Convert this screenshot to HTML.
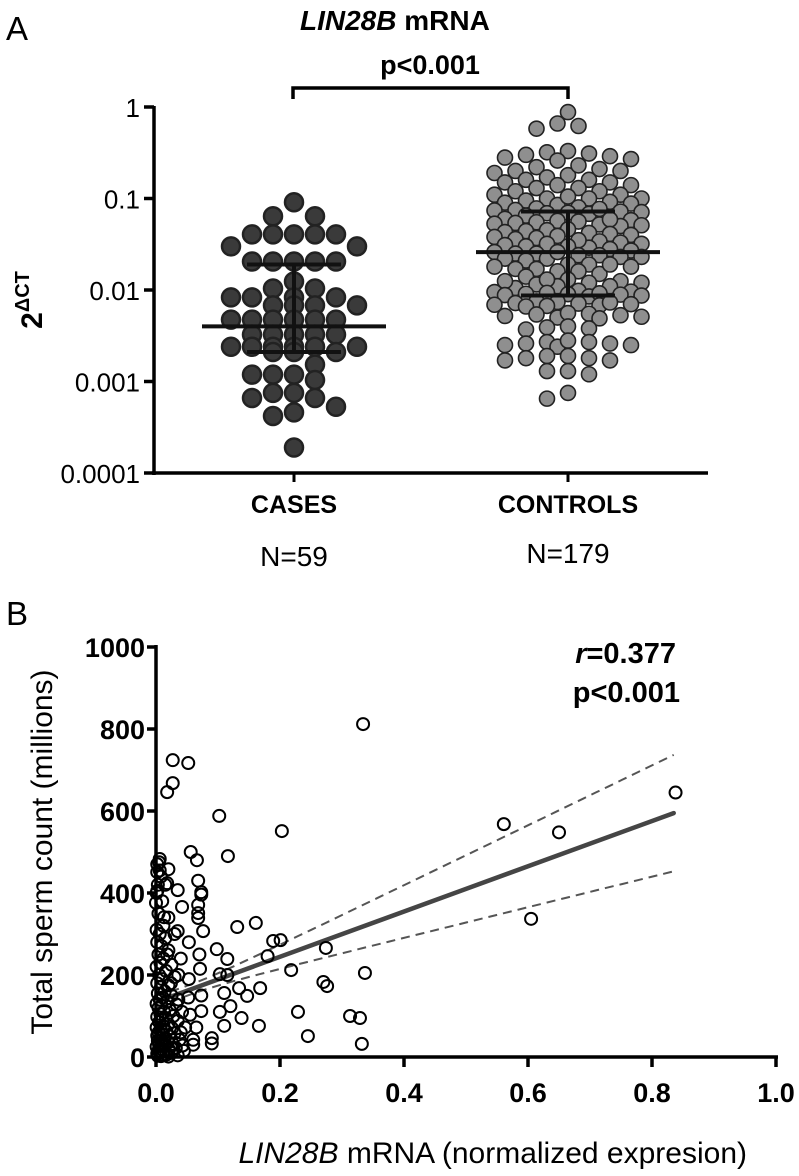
<!DOCTYPE html>
<html><head><meta charset="utf-8"><style>
html,body{margin:0;padding:0;background:#fff;}
svg{display:block;font-family:"Liberation Sans",Arial,sans-serif;}
</style></head><body>
<svg id="fig" width="799" height="1176" viewBox="0 0 799 1176" xmlns="http://www.w3.org/2000/svg">
<g id="panelA">
  <text x="6" y="40" font-size="33">A</text>
  <text x="300" y="30" font-size="28" font-weight="bold"><tspan font-style="italic">LIN28B</tspan> mRNA</text>
  <text x="430" y="74" font-size="27" font-weight="bold" text-anchor="middle">p&lt;0.001</text>
  <path d="M293 99 V88 H568 V99" fill="none" stroke="#000" stroke-width="3.5"/>
  <g transform="translate(42,300) rotate(-90)">
    <text x="0" y="0" font-size="30" font-weight="bold" text-anchor="middle">2<tspan font-size="20" dy="-13">ΔCT</tspan></text>
  </g>
  <g id="axesA"></g>
  <g id="dotsA"></g>
  <g id="barsA"></g>
  <text x="294" y="513" font-size="25" font-weight="bold" text-anchor="middle">CASES</text>
  <text x="568" y="513" font-size="25" font-weight="bold" text-anchor="middle">CONTROLS</text>
  <text x="294" y="566" font-size="28" text-anchor="middle">N=59</text>
  <text x="568" y="563" font-size="28" text-anchor="middle">N=179</text>
</g>
<g id="panelB">
  <text x="6" y="625" font-size="33">B</text>
  <text x="676" y="663" font-size="29" font-weight="bold" text-anchor="end"><tspan font-style="italic">r</tspan>=0.377</text>
  <text x="680" y="702" font-size="29" font-weight="bold" text-anchor="end">p&lt;0.001</text>
  <text transform="translate(52,852) rotate(-90)" font-size="30" text-anchor="middle">Total sperm count (millions)</text>
  <text x="747" y="1163" font-size="30" text-anchor="end"><tspan font-style="italic">LIN28B</tspan> mRNA (normalized expresion)</text>
  <g id="axesB"></g>
  <g id="fitB"></g>
  <g id="dotsB"></g>
</g>
</svg>
<script>
// ---------- Panel A data ----------
const groupNames = ["CASES", "CONTROLS"];
const yTicksA = [1, 0.1, 0.01, 0.001, 0.0001];
const yTickLabelsA = ["1", "0.1", "0.01", "0.001", "0.0001"];
const casesValues = [0.091,0.064,0.064,0.0406,0.0406,0.0406,0.0406,0.0406,0.030,0.030,
 0.0205,0.0205,0.0205,0.0205,0.0205,0.0124,0.0104,0.0104,0.0083,0.0083,0.0083,0.0083,
 0.0068,0.0068,0.0068,0.0068,0.00475,0.00475,0.00475,0.00475,0.00475,0.00475,
 0.00325,0.00325,0.00325,0.00325,0.00325,0.0024,0.0024,0.0024,0.0024,0.0024,0.0024,
 0.0021,0.0021,0.0021,0.00153,0.00119,0.00119,0.00119,0.00104,0.00075,0.00075,
 0.00066,0.00066,0.00053,0.00046,0.00042,0.00019];
const controlsValues = [0.88,0.62,0.58,0.66,
 0.33,0.30,0.28,0.32,0.31,0.27,0.29,0.26,
 0.20,0.22,0.18,0.19,0.21,0.17,0.23,0.2,0.16,
 0.15,0.14,0.13,0.16,0.12,0.15,0.13,0.14,0.12,0.11,
 0.10,0.095,0.11,0.09,0.1,0.085,0.105,0.092,0.088,0.1,
 0.08,0.075,0.072,0.07,0.078,0.068,0.074,0.065,0.071,0.077,0.069,
 0.06,0.058,0.055,0.052,0.057,0.05,0.054,0.059,0.053,0.056,0.051,
 0.045,0.043,0.04,0.042,0.044,0.038,0.041,0.046,0.039,0.037,0.036,
 0.034,0.032,0.03,0.033,0.031,0.029,0.035,0.028,0.027,0.03,0.032,
 0.026,0.025,0.024,0.023,0.022,0.025,0.021,0.024,0.026,0.023,0.022,
 0.019,0.018,0.017,0.016,0.019,0.018,0.015,0.017,0.016,0.019,0.014,
 0.013,0.0125,0.012,0.0115,0.011,0.0105,0.013,0.012,0.011,0.0125,
 0.0098,0.0095,0.009,0.0088,0.0085,0.0092,0.0096,0.0087,0.0093,0.0089,0.0091,
 0.0075,0.0072,0.007,0.0068,0.0074,0.0066,0.0071,0.0069,0.0073,0.0067,
 0.0055,0.0052,0.005,0.0054,0.0051,0.0053,0.0049,0.0056,
 0.0039,0.0038,0.0037,0.004,
 0.0026,0.0027,0.0025,0.0024,0.0026,0.0027,0.0025,0.0028,
 0.0019,0.0018,0.0017,0.0019,0.0018,0.0017,
 0.0013,0.0012,0.0013,
 0.00075,0.00065];
const medians = [0.004, 0.0259];
const q1s = [0.0021, 0.0087];
const q3s = [0.019, 0.072];

// ---------- Panel B data ----------
const xTicksB = [0, 0.2, 0.4, 0.6, 0.8, 1.0];
const xTickLabelsB = ["0.0","0.2","0.4","0.6","0.8","1.0"];
const yTicksB = [0, 200, 400, 600, 800, 1000];
const yTickLabelsB = ["0","200","400","600","800","1000"];
const expr = [0.334,0.027,0.052,0.027,0.018,0.102,0.203,0.561,0.056,0.066,0.116,0.006,0.002,0.02,0.018,0.035,0.068,0.073,0.073,0.002,0.0,0.042,0.068,0.068,0.068,0.013,0.076,0.035,0.001,0.131,0.161,0.189,0.201,0.274,0.053,0.098,0.115,0.18,0.04,0.07,0.071,0.218,0.337,0.103,0.115,0.053,0.036,0.27,0.276,0.134,0.168,0.147,0.11,0.073,0.052,0.12,0.103,0.073,0.229,0.055,0.313,0.329,0.138,0.166,0.11,0.065,0.047,0.245,0.332,0.09,0.09,0.06,0.06,0.043,0.605,0.65,0.838,
 0.002,0.005,0.008,0.003,0.01,0.004,0.012,0.006,0.015,0.002,0.009,0.02,0.004,0.012,0.007,0.025,0.001,0.016,0.005,0.03,0.01,0.002,0.02,0.008,0.014,0.003,0.025,0.011,0.006,0.018,0.001,0.033,0.009,0.004,0.022,0.013,0.007,0.028,0.002,0.016,0.01,0.035,0.005,0.02,0.012,0.001,0.026,0.008,0.017,0.004,0.03,0.011,0.002,0.022,0.007,0.014,0.038,0.003,0.019,0.01,0.027,0.005,0.015,0.001,0.032,0.009,0.021,0.004,0.013,0.006,0.025,0.002,0.017,0.011,0.035,0.003,0.008,0.02,0.045,0.04,0.042,0.03,0.02,0.015,0.006,0.001,0.018,0.024,0.036,0.028];
const sperm = [812,724,717,668,646,588,551,568,500,480,490,483,451,458,424,407,430,402,396,405,376,366,371,351,339,341,307,307,310,317,327,283,285,266,280,263,239,246,240,250,215,212,205,202,200,190,200,183,173,168,168,149,156,150,145,124,110,112,110,103,100,95,95,76,76,72,72,51,32,46,33,42,30,28,337,548,645,
 470,475,440,420,380,350,320,300,290,280,270,260,250,240,230,225,220,210,200,195,190,180,175,170,160,155,150,145,140,135,130,128,125,120,115,110,105,100,98,95,90,88,85,80,75,72,70,66,62,60,58,55,52,50,46,44,42,40,38,35,32,30,28,25,22,20,18,16,14,12,10,8,6,5,4,3,2,1,15,60,110,300,340,420,455,400,250,180,140,20];
const fitIntercept = [134];
const fitSlope = [552];
const fitRange = [0, 0.835];
const bandMeanX = [0.05];
const bandHalfAtMean = [12];
const bandHalfAtEnd = [142];

const NS = "http://www.w3.org/2000/svg";
function mk(tag, attrs, parent) {
  const e = document.createElementNS(NS, tag);
  for (const k in attrs) e.setAttribute(k, attrs[k]);
  parent.appendChild(e);
  return e;
}

// ---------- Panel A scales ----------
const A = {x0: 154, y1: 107, y0: 473, right: 708};
const catX = [294, 568];
function yA(v) { return A.y1 + (0 - Math.log10(v)) * (A.y0 - A.y1) / 4; }

const axA = document.getElementById('axesA');
let l = mk('line', {x1: A.x0, y1: A.y1 - 1, x2: A.x0, y2: A.y0 + 2, stroke: '#000', 'stroke-width': 3.5}, axA);


l = mk('line', {x1: A.x0 - 2, y1: A.y0, x2: A.right, y2: A.y0, stroke: '#000', 'stroke-width': 3.5}, axA);


yTicksA.forEach((t, i) => {
  const y = yA(t);
  const tk = mk('line', {x1: A.x0 - 10, y1: y, x2: A.x0, y2: y, stroke: '#000', 'stroke-width': 3.5}, axA);
  
  
  const tx = mk('text', {x: A.x0 - 14, y: y + 10, 'font-size': 26, 'text-anchor': 'end'}, axA);
  tx.textContent = yTickLabelsA[i];
  
  
});
catX.forEach((cx, i) => {
  const tk = mk('line', {x1: cx, y1: A.y0, x2: cx, y2: A.y0 + 9, stroke: '#000', 'stroke-width': 3}, axA);
  
  
});

function swarm(values, cx, minD, step, maxHalf) {
  const order = values.map((v, i) => i).sort((a, b) => values[b] - values[a]);
  const placed = [];
  const out = new Array(values.length);
  order.forEach(i => {
    const y = yA(values[i]);
    let best = cx, bestScore = Infinity;
    for (let k = 0; k < 60; k++) {
      const off = (k === 0) ? 0 : Math.ceil(k / 2) * step * (k % 2 ? -1 : 1);
      if (Math.abs(off) > maxHalf) break;
      const x = cx + off;
      let score = 0;
      for (const p of placed) {
        const dx = p[0] - x, dy = p[1] - y;
        const d = Math.sqrt(dx * dx + dy * dy);
        if (d < minD) score += (minD - d);
      }
      if (score < bestScore) { bestScore = score; best = x; }
      if (score === 0) break;
    }
    placed.push([best, y]);
    out[i] = [best, y];
  });
  return out;
}
const dotsA = document.getElementById('dotsA');
swarm(casesValues, catX[0], 15, 21, 66).forEach(p => {
  const c = mk('circle', {cx: p[0], cy: p[1], r: 9, fill: '#3a3a3a', stroke: '#222', 'stroke-width': 2.5}, dotsA);
  
  
});
swarm(controlsValues, catX[1], 13, 10.5, 80).forEach(p => {
  const c = mk('circle', {cx: p[0], cy: p[1], r: 7.5, fill: '#8f8f8f', stroke: '#222', 'stroke-width': 1.6}, dotsA);
  
  
});
const barsA = document.getElementById('barsA');
const medHalf = [92, 92], capHalf = [47, 47];
catX.forEach((cx, i) => {
  let e = mk('line', {x1: cx - medHalf[i], x2: cx + medHalf[i], y1: yA(medians[i]), y2: yA(medians[i]), stroke: '#111', 'stroke-width': 4}, barsA);
  
  
  e = mk('line', {x1: cx, x2: cx, y1: yA(q1s[i]), y2: yA(q3s[i]), stroke: '#111', 'stroke-width': 4}, barsA);
  
  
  e = mk('line', {x1: cx - capHalf[i], x2: cx + capHalf[i], y1: yA(q3s[i]), y2: yA(q3s[i]), stroke: '#111', 'stroke-width': 4}, barsA);
  
  
  e = mk('line', {x1: cx - capHalf[i], x2: cx + capHalf[i], y1: yA(q1s[i]), y2: yA(q1s[i]), stroke: '#111', 'stroke-width': 4}, barsA);
  
  
});

// ---------- Panel B scales ----------
const B = {x0: 156, x1: 776, y0: 1057, y1: 647};
function xB(v) { return B.x0 + v * (B.x1 - B.x0); }
function yB(v) { return B.y0 - v / 1000 * (B.y0 - B.y1); }
const axB = document.getElementById('axesB');
l = mk('line', {x1: B.x0, y1: B.y1 - 2, x2: B.x0, y2: B.y0 + 2, stroke: '#000', 'stroke-width': 3.5}, axB);


l = mk('line', {x1: B.x0 - 2, y1: B.y0, x2: B.x1 + 2, y2: B.y0, stroke: '#000', 'stroke-width': 3.5}, axB);


yTicksB.forEach((t, i) => {
  const y = yB(t);
  const tk = mk('line', {x1: B.x0 - 9, y1: y, x2: B.x0, y2: y, stroke: '#000', 'stroke-width': 3.5}, axB);
  
  
  const tx = mk('text', {x: B.x0 - 11, y: y + 10, 'font-size': 27, 'font-weight': 'bold', 'text-anchor': 'end'}, axB);
  tx.textContent = yTickLabelsB[i];
  
  
});
xTicksB.forEach((t, i) => {
  const x = xB(t);
  const tk = mk('line', {x1: x, y1: B.y0, x2: x, y2: B.y0 + 10, stroke: '#000', 'stroke-width': 3.5}, axB);
  
  
  const tx = mk('text', {x: x, y: 1102, 'font-size': 27, 'font-weight': 'bold', 'text-anchor': 'middle'}, axB);
  tx.textContent = xTickLabelsB[i];
  
  
});
const fitG = document.getElementById('fitB');
const kB = (bandHalfAtEnd[0] ** 2 - bandHalfAtMean[0] ** 2) / ((fitRange[1] - bandMeanX[0]) ** 2);
function band(x) { return Math.sqrt(bandHalfAtMean[0] ** 2 + kB * (x - bandMeanX[0]) ** 2); }
function fitY(x) { return fitIntercept[0] + fitSlope[0] * x; }
let up = [], lo = [];
for (let s = 0; s <= 40; s++) {
  const x = fitRange[0] + (fitRange[1] - fitRange[0]) * s / 40;
  up.push(xB(x).toFixed(1) + ',' + yB(fitY(x) + band(x)).toFixed(1));
  lo.push(xB(x).toFixed(1) + ',' + yB(fitY(x) - band(x)).toFixed(1));
}
let pl = mk('polyline', {points: up.join(' '), fill: 'none', stroke: '#555', 'stroke-width': 2, 'stroke-dasharray': '9 6'}, fitG);


pl = mk('polyline', {points: lo.join(' '), fill: 'none', stroke: '#555', 'stroke-width': 2, 'stroke-dasharray': '9 6'}, fitG);


pl = mk('line', {x1: xB(fitRange[0]), y1: yB(fitY(fitRange[0])), x2: xB(fitRange[1]), y2: yB(fitY(fitRange[1])), stroke: '#454545', 'stroke-width': 4.5, 'stroke-linecap': 'round'}, fitG);


const dotsB = document.getElementById('dotsB');
expr.forEach((v, i) => {
  const c = mk('circle', {cx: xB(v), cy: yB(sperm[i]), r: 6, fill: 'none', stroke: '#000', 'stroke-width': 2}, dotsB);
  
  
});
</script>
</body></html>
